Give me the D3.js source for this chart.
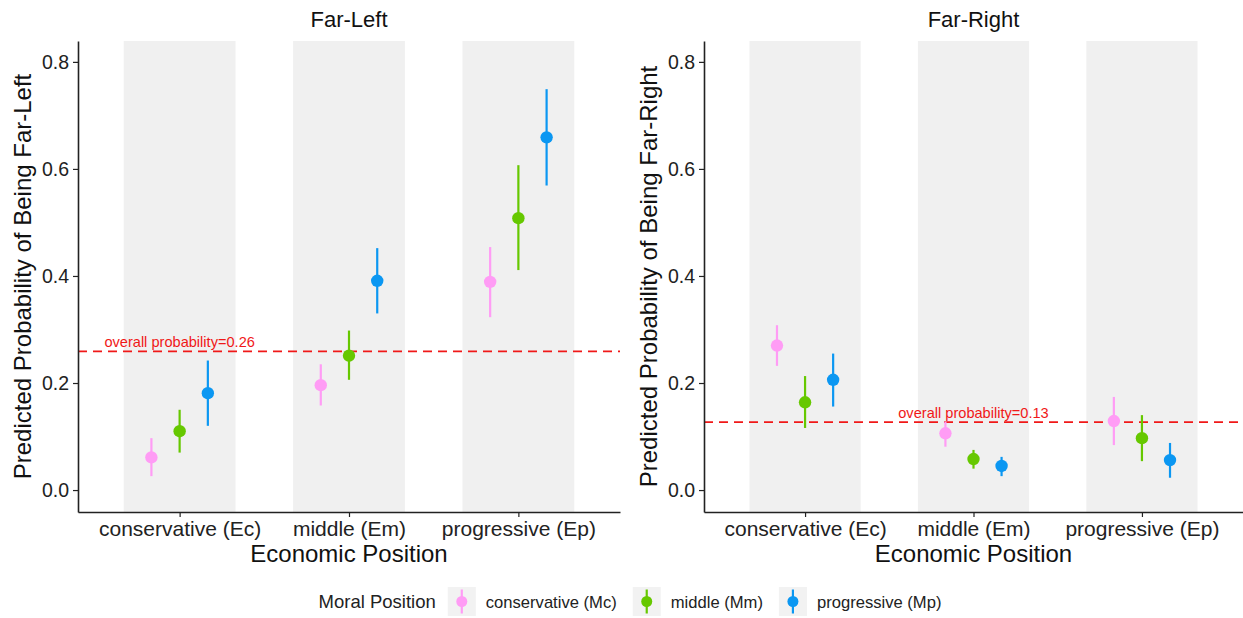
<!DOCTYPE html>
<html>
<head>
<meta charset="utf-8">
<title>Predicted probability by economic and moral position</title>
<style>
  body, html { margin: 0; padding: 0; background: #fff; }
  svg { display: block; font-family: "Liberation Sans", Arial, Helvetica, sans-serif; }
  .axis .tick text { fill: #222; }
  .y-axis .tick text { font-size: 19.5px; }
  .x-axis .tick text { font-size: 21px; }
  .axis path, .axis line { stroke: #222; }
  .title { font-size: 22px; text-anchor: middle; fill: #111; }
  .axis-title { font-size: 24px; text-anchor: middle; fill: #111; }
  .note { font-size: 14.6px; fill: #f01818; text-anchor: middle; }
  .legend .legend-title { font-size: 18.5px; fill: #222; }
  .legend .legend-label { font-size: 16.6px; fill: #222; }
</style>
<script src="https://d3js.org/d3.v7.min.js"></script>
</head>
<body>
<svg width="1243" height="618"></svg>
<script>
// categories
const econPositions = ["conservative (Ec)", "middle (Em)", "progressive (Ep)"];
const moralPositions = ["conservative (Mc)", "middle (Mm)", "progressive (Mp)"];
const panelTitles = ["Far-Left", "Far-Right"];
const yLabels = ["Predicted Probability of Being Far-Left", "Predicted Probability of Being Far-Right"];
const yTicks = [0, 0.2, 0.4, 0.6, 0.8];

// rows = moral position (Mc, Mm, Mp), columns = economic position (Ec, Em, Ep)
const farLeftEst  = [[0.061, 0.196, 0.389], [0.110, 0.251, 0.508], [0.181, 0.391, 0.659]];
const farLeftLow  = [[0.026, 0.158, 0.323], [0.070, 0.206, 0.411], [0.120, 0.330, 0.569]];
const farLeftHigh = [[0.097, 0.235, 0.454], [0.150, 0.298, 0.607], [0.242, 0.452, 0.749]];

const farRightEst  = [[0.270, 0.106, 0.129], [0.164, 0.058, 0.097], [0.206, 0.045, 0.056]];
const farRightLow  = [[0.232, 0.081, 0.084], [0.116, 0.040, 0.054], [0.156, 0.026, 0.023]];
const farRightHigh = [[0.308, 0.128, 0.174], [0.213, 0.075, 0.140], [0.255, 0.062, 0.088]];

const overallProb = [0.259, 0.127];
const overallLabels = ["overall probability=0.26", "overall probability=0.13"];
const overallLabelAt = ["conservative (Ec)", "middle (Em)"];

const colors = ["#ff9cf5", "#66c800", "#0b97f2"];

const svg = d3.select("svg");
const plotTop = 41, plotBottom = 512;
const panelX = [[78, 620], [704, 1243]];

const y = d3.scaleLinear().domain([-0.041, 0.839]).range([plotBottom, plotTop]);

const panelData = [
  { est: farLeftEst, low: farLeftLow, high: farLeftHigh },
  { est: farRightEst, low: farRightLow, high: farRightHigh }
];

panelData.forEach((pd, p) => {
  const x = d3.scalePoint().domain(econPositions).range(panelX[p]).padding(0.6);
  const step = x.step();
  const dodge = d3.scalePoint().domain(moralPositions).range([-step / 6, step / 6]);
  const g = svg.append("g");

  // grey bands behind each economic position
  g.selectAll(".band")
    .data(econPositions)
    .enter().append("rect")
    .attr("x", d => x(d) - step * 0.33)
    .attr("width", step * 0.66)
    .attr("y", plotTop)
    .attr("height", plotBottom - plotTop)
    .attr("fill", "#f0f0f0");

  // overall probability line
  g.append("line")
    .attr("x1", panelX[p][0]).attr("x2", panelX[p][1])
    .attr("y1", y(overallProb[p])).attr("y2", y(overallProb[p]))
    .attr("stroke", "#f01818")
    .attr("stroke-width", 1.8)
    .attr("stroke-dasharray", "9,6");

  g.append("text")
    .attr("class", "note")
    .attr("x", x(overallLabelAt[p]))
    .attr("y", y(overallProb[p]) - 4)
    .text(overallLabels[p]);

  // error bars and points
  moralPositions.forEach((m, i) => {
    const rows = econPositions.map((e, j) => ({
      e: e, est: pd.est[i][j], low: pd.low[i][j], high: pd.high[i][j]
    }));
    g.selectAll(".err" + i)
      .data(rows)
      .enter().append("line")
      .attr("x1", d => x(d.e) + dodge(m))
      .attr("x2", d => x(d.e) + dodge(m))
      .attr("y1", d => y(d.low))
      .attr("y2", d => y(d.high))
      .attr("stroke", colors[i])
      .attr("stroke-width", 2.2);
    g.selectAll(".pt" + i)
      .data(rows)
      .enter().append("circle")
      .attr("cx", d => x(d.e) + dodge(m))
      .attr("cy", d => y(d.est))
      .attr("r", 6.2)
      .attr("fill", colors[i]);
  });

  // axes
  g.append("g")
    .attr("class", "axis y-axis")
    .attr("transform", `translate(${panelX[p][0]},0)`)
    .call(d3.axisLeft(y).tickValues(yTicks).tickFormat(d3.format(".1f")).tickSize(5).tickSizeOuter(0).tickPadding(4))
    .call(a => a.select(".domain").attr("stroke-width", 1.6))
    .call(a => a.selectAll(".tick line").attr("stroke-width", 1.2));

  g.append("g")
    .attr("class", "axis x-axis")
    .attr("transform", `translate(0,${plotBottom})`)
    .call(d3.axisBottom(x).tickSize(5).tickSizeOuter(0).tickPadding(4))
    .call(a => a.select(".domain").attr("stroke-width", 1.6))
    .call(a => a.selectAll(".tick line").attr("stroke-width", 1.2));

  // titles
  const cx = (panelX[p][0] + panelX[p][1]) / 2;
  svg.append("text").attr("class", "title")
    .attr("x", cx).attr("y", 27).text(panelTitles[p]);
  svg.append("text").attr("class", "axis-title")
    .attr("x", cx).attr("y", 562).text("Economic Position");
  svg.append("text").attr("class", "axis-title")
    .attr("transform", `translate(${panelX[p][0] - 47},${(plotTop + plotBottom) / 2}) rotate(-90)`)
    .text(yLabels[p]);
});

// legend
const legend = svg.append("g").attr("class", "legend");
let lx = 0;
const ly = 601.5;
const keyW = 28, keyH = 29;
const lt = legend.append("text").attr("class", "legend-title")
  .attr("x", lx).attr("y", ly + 6.5).text("Moral Position");
lx += lt.node().getComputedTextLength() + 12;
moralPositions.forEach((m, i) => {
  legend.append("rect")
    .attr("x", lx).attr("y", ly - keyH / 2)
    .attr("width", keyW).attr("height", keyH)
    .attr("fill", "#f2f2f2");
  legend.append("line")
    .attr("x1", lx + keyW / 2).attr("x2", lx + keyW / 2)
    .attr("y1", ly - 12).attr("y2", ly + 12)
    .attr("stroke", colors[i]).attr("stroke-width", 2.2);
  legend.append("circle")
    .attr("cx", lx + keyW / 2).attr("cy", ly).attr("r", 5.5)
    .attr("fill", colors[i]);
  lx += keyW + 10;
  const t = legend.append("text").attr("class", "legend-label")
    .attr("x", lx).attr("y", ly + 6.5).text(m);
  lx += t.node().getComputedTextLength() + 16;
});
const legendWidth = lx - 16;
legend.attr("transform", `translate(${630 - legendWidth / 2},0)`);
</script>
</body>
</html>
